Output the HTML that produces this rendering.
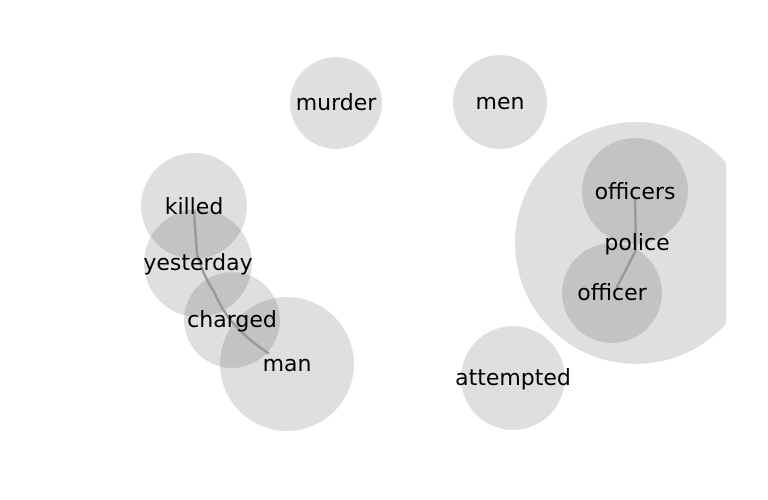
<!DOCTYPE html>
<html><head><style>html,body{margin:0;padding:0;background:#fff;}svg{display:block}</style></head>
<body>
<svg width="768" height="500" viewBox="0 0 768 500" xmlns="http://www.w3.org/2000/svg">
<defs><clipPath id="c"><rect x="0" y="0" width="726" height="500"/></clipPath></defs>
<g clip-path="url(#c)" fill="#000" fill-opacity="0.125">
<circle cx="336" cy="103" r="46"/>
<circle cx="500" cy="102" r="47"/>
<circle cx="636" cy="243" r="121"/>
<circle cx="635" cy="191" r="53"/>
<circle cx="612" cy="293" r="50"/>
<circle cx="513" cy="378" r="52"/>
<circle cx="194" cy="206" r="53"/>
<circle cx="198" cy="263" r="54"/>
<circle cx="232" cy="320" r="48"/>
<circle cx="287" cy="364" r="67"/>
</g>
<g fill="none" stroke="#999" stroke-width="2.5" stroke-linecap="round">
<path d="M194,212 L197,254 Q203,275 214,292 Q222,310 232,322 Q248,340 268,353"/>
<path d="M635,200 L636,250 L617,287"/>
</g>
<g font-family="DejaVu Sans, Liberation Sans, sans-serif" font-size="22" text-anchor="middle" fill="#000">
<text x="336" y="110">murder</text>
<text x="500" y="109">men</text>
<text x="635" y="199">officers</text>
<text x="637" y="250">police</text>
<text x="612" y="300">officer</text>
<text x="513" y="385">attempted</text>
<text x="194" y="214">killed</text>
<text x="198" y="270">yesterday</text>
<text x="232" y="327">charged</text>
<text x="287" y="371">man</text>
</g>
</svg>
</body></html>
